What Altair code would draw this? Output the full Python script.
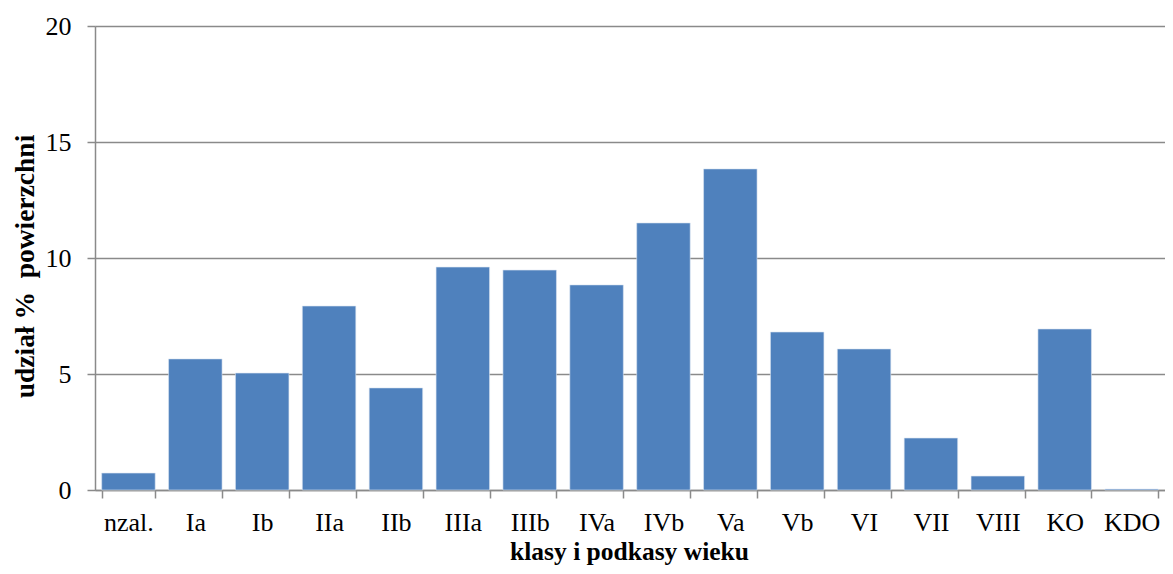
import altair as alt
import pandas as pd

categories = ["nzal.", "Ia", "Ib", "IIa", "IIb", "IIIa", "IIIb", "IVa", "IVb",
              "Va", "Vb", "VI", "VII", "VIII", "KO", "KDO"]
values = [0.73, 5.65, 5.04, 7.93, 4.40, 9.61, 9.48, 8.84, 11.51,
          13.84, 6.81, 6.08, 2.24, 0.60, 6.94, 0.04]
y_ticks = [0, 5, 10, 15, 20]

df = pd.DataFrame({"klasa": categories, "udzial": values})

FONT = "Liberation Serif"
GRAY = "#8a8a8a"

chart = alt.Chart(df).mark_bar(color="#4F81BD", stroke="#dbe5f1", strokeWidth=0.6).encode(
    x=alt.X("klasa:N", sort=categories,
            scale=alt.Scale(paddingInner=0.2, paddingOuter=0.1),
            axis=alt.Axis(title="klasy i podkasy wieku", labelAngle=0,
                          tickBand="extent", tickSize=8, tickColor=GRAY, tickWidth=1.5,
                          domainColor=GRAY, domainWidth=1.5,
                          labelFont=FONT, labelFontSize=26, labelColor="#000000",
                          labelBaseline="alphabetic", labelPadding=32,
                          titleFont=FONT, titleFontSize=25.5, titleFontWeight="bold",
                          titleColor="#000000", titleBaseline="alphabetic",
                          titleAnchor="middle", titleX=534, titleY=69)),
    y=alt.Y("udzial:Q",
            scale=alt.Scale(domain=[0, 20], nice=False),
            axis=alt.Axis(title="udział %\u00a0 powierzchni", values=y_ticks,
                          grid=True, gridColor=GRAY, gridWidth=1.5,
                          tickSize=8, tickColor=GRAY, tickWidth=1.5,
                          domainColor=GRAY, domainWidth=1.5,
                          labelFont=FONT, labelFontSize=26, labelColor="#000000",
                          labelPadding=16,
                          titleFont=FONT, titleFontSize=27.5, titleFontWeight="bold",
                          titleColor="#000000", titleAngle=-90,
                          titleBaseline="alphabetic", titleAlign="center",
                          titleX=-62, titleY=240)),
).properties(
    width=1070, height=464,
    autosize=alt.AutoSizeParams(type="none"),
    padding={"left": 87, "top": 18, "right": 0, "bottom": 76},
).configure_view(stroke=None).configure(background="#ffffff")

chart.save("out.html", embed_options={"renderer": "svg", "actions": False})
